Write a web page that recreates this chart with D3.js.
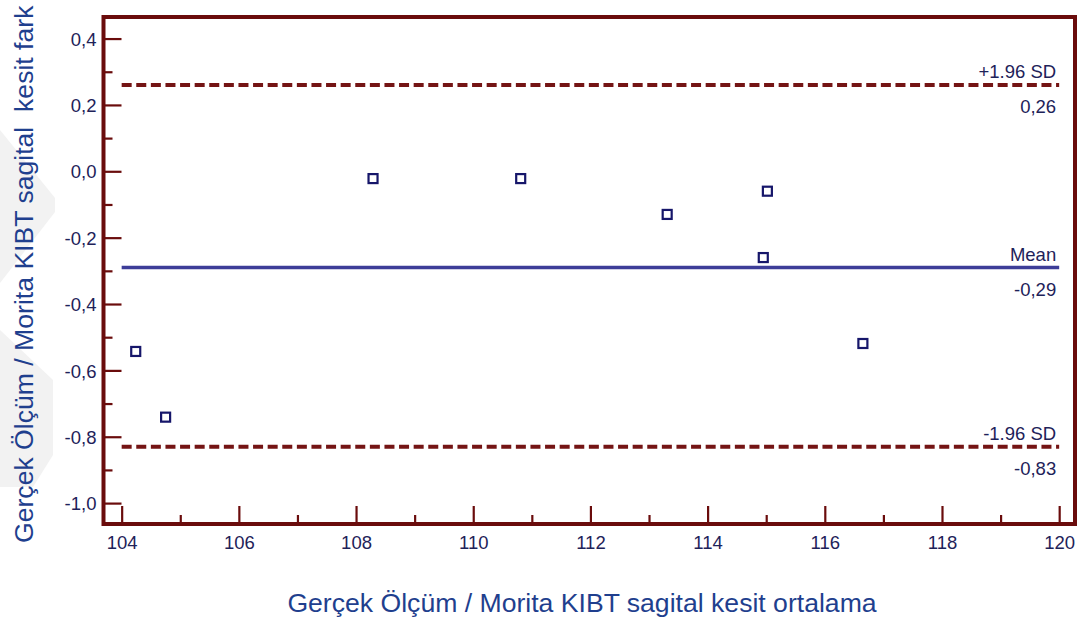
<!DOCTYPE html>
<html>
<head>
<meta charset="utf-8">
<script src="https://cdn.jsdelivr.net/npm/d3@7"></script>
<style>
  html, body { margin: 0; padding: 0; background: #ffffff; }
  svg { display: block; font-family: "Liberation Sans", Arial, sans-serif; }
</style>
</head>
<body>
<svg id="chart" width="1082" height="621"></svg>
<script>
// Bland-Altman plot: mean of the two measurements vs. their difference
const meanValues = [104.24, 104.75, 108.29, 110.81, 113.31, 115.02, 114.95, 116.65];
const diffValues = [-0.543, -0.741, -0.022, -0.022, -0.130, -0.060, -0.260, -0.519];

// Reference lines: +1.96 SD, mean, -1.96 SD
const refNames  = ["+1.96 SD", "Mean", "-1.96 SD"];
const refValues = [0.26, -0.29, -0.83];
const refLabels = ["0,26", "-0,29", "-0,83"];
const refKinds  = ["sd", "mean", "sd"];

const xDomain = [103.69, 120.27];
const yDomain = [-1.063, 0.465];
const xMajorTicks = [104, 106, 108, 110, 112, 114, 116, 118, 120];
const xMinorTicks = [105, 107, 109, 111, 113, 115, 117, 119];
const yMajorTicks = [0.4, 0.2, 0.0, -0.2, -0.4, -0.6, -0.8, -1.0];
const yMinorTicks = [0.3, 0.1, -0.1, -0.3, -0.5, -0.7, -0.9];
const lineExtent = [104, 120];

const xTitle = "Gerçek Ölçüm / Morita KIBT sagital kesit ortalama";
const yTitle = "Gerçek Ölçüm / Morita KIBT sagital\u00A0 kesit fark";

const frameColor = "#6a0c0c";
const sdColor = "#741414";
const meanColor = "#3d3d98";
const markColor = "#16166a";
const tickTextColor = "#1e2259";
const titleColor = "#1f3f8e";

const plotLeft = 103.5, plotRight = 1075, plotTop = 17, plotBottom = 524;

const svg = d3.select("#chart");

// faint background logo shapes at the left edge
svg.append("path")
  .attr("d", "M0,130 L55,198 L55,212 L0,283 Z M0,330 L53,380 L53,455 L33,487 L0,487 Z")
  .attr("fill", "#f2f2f2");

const x = d3.scaleLinear().domain(xDomain).range([plotLeft, plotRight]);
const y = d3.scaleLinear().domain(yDomain).range([plotBottom, plotTop]);
const comma = d => d3.format(".1f")(d).replace(".", ",").replace("−", "-");

// y axis ticks point inward (to the right), labels on the left
const yAxis = svg.append("g").attr("transform", `translate(${plotLeft},0)`)
  .call(d3.axisLeft(y).tickValues(yMajorTicks).tickSizeInner(-18).tickSizeOuter(0)
    .tickPadding(7).tickFormat(comma));
svg.append("g").attr("transform", `translate(${plotLeft},0)`)
  .call(d3.axisLeft(y).tickValues(yMinorTicks).tickSizeInner(-9).tickSizeOuter(0).tickFormat(""));

// x axis ticks point inward (upward), labels below
svg.append("g").attr("transform", `translate(0,${plotBottom})`)
  .call(d3.axisBottom(x).tickValues(xMajorTicks).tickSizeInner(-18).tickSizeOuter(0)
    .tickPadding(12).tickFormat(d3.format("d")));
svg.append("g").attr("transform", `translate(0,${plotBottom})`)
  .call(d3.axisBottom(x).tickValues(xMinorTicks).tickSizeInner(-9).tickSizeOuter(0).tickFormat(""));

svg.selectAll(".domain").remove();
svg.selectAll(".tick line").attr("stroke", frameColor).attr("stroke-width", 2.2);
svg.selectAll(".tick text")
  .attr("fill", tickTextColor)
  .style("font-size", "18.5px")
  .style("font-family", "'Liberation Sans', Arial, sans-serif");
yAxis.selectAll(".tick text").attr("dy", "0.36em");

// reference lines with their labels
const refs = refValues.map((v, i) => ({ v, name: refNames[i], label: refLabels[i], kind: refKinds[i] }));
const rg = svg.append("g");
rg.selectAll("line").data(refs).join("line")
  .attr("x1", x(lineExtent[0])).attr("x2", x(lineExtent[1]))
  .attr("y1", d => y(d.v)).attr("y2", d => y(d.v))
  .attr("stroke", d => d.kind === "mean" ? meanColor : sdColor)
  .attr("stroke-width", d => d.kind === "mean" ? 3.5 : 4)
  .attr("stroke-dasharray", d => d.kind === "mean" ? null : "10,4.6");
rg.selectAll("text.name").data(refs).join("text").attr("class", "name")
  .attr("x", x(lineExtent[1]) - 3).attr("y", d => y(d.v) - 7)
  .attr("text-anchor", "end").attr("fill", tickTextColor).style("font-size", "18.5px")
  .text(d => d.name);
rg.selectAll("text.val").data(refs).join("text").attr("class", "val")
  .attr("x", x(lineExtent[1]) - 3).attr("y", d => y(d.v) + 28)
  .attr("text-anchor", "end").attr("fill", tickTextColor).style("font-size", "18.5px")
  .text(d => d.label);

// data points as open squares
const s = 9;
svg.append("g").selectAll("rect").data(meanValues).join("rect")
  .attr("x", (d) => x(d) - s / 2)
  .attr("y", (d, i) => y(diffValues[i]) - s / 2)
  .attr("width", s).attr("height", s)
  .attr("fill", "#ffffff")
  .attr("stroke", markColor).attr("stroke-width", 2.2);

// plot frame
svg.append("rect")
  .attr("x", plotLeft).attr("y", plotTop)
  .attr("width", plotRight - plotLeft).attr("height", plotBottom - plotTop)
  .attr("fill", "none").attr("stroke", frameColor).attr("stroke-width", 4);

// axis titles
svg.append("text")
  .attr("x", 582).attr("y", 612)
  .attr("text-anchor", "middle").attr("fill", titleColor)
  .style("font-size", "26.6px")
  .text(xTitle);
svg.append("text")
  .attr("transform", "translate(33,543) rotate(-90)")
  .attr("text-anchor", "start").attr("fill", titleColor)
  .style("font-size", "26.6px")
  .text(yTitle);
</script>
</body>
</html>
